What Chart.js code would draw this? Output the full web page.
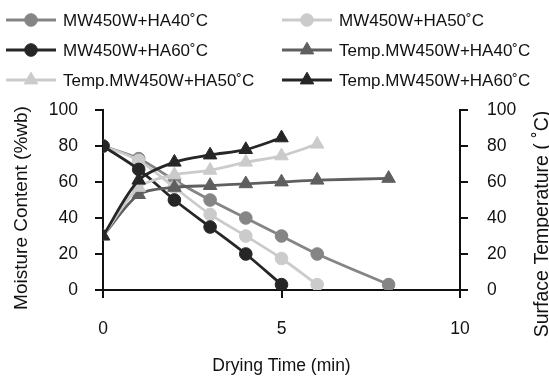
<!DOCTYPE html>
<html>
<head>
<meta charset="utf-8">
<script src="https://cdn.jsdelivr.net/npm/chart.js@4.4.0/dist/chart.umd.min.js"></script>
<style>
  html, body { margin:0; padding:0; background:#fff; }
</style>
</head>
<body>
<canvas id="chart" width="549" height="376"></canvas>
<script>
// Datos (tiempo en min, humedad %wb, temperatura ˚C)
const time40 = [0, 1, 2, 3, 4, 5, 6, 8];
const time50 = [0, 1, 2, 3, 4, 5, 6];
const time60 = [0, 1, 2, 3, 4, 5];
const moist40 = [80, 73, 61, 50, 40, 30, 20, 3];
const moist50 = [80, 72, 57, 42, 30, 17.5, 3];
const moist60 = [80, 67, 50, 35, 20, 3];
const temp40 = [30, 53, 57, 58, 59, 60, 61, 62];
const temp50 = [30, 57, 64, 66.5, 71, 74.5, 81];
const temp60 = [30, 61, 71, 75, 78, 84.5];
const seriesNames = ['MW450W+HA40˚C', 'MW450W+HA50˚C', 'MW450W+HA60˚C',
  'Temp.MW450W+HA40˚C', 'Temp.MW450W+HA50˚C', 'Temp.MW450W+HA60˚C'];
const xTicks = [0, 5, 10];
const yTicks = [0, 20, 40, 60, 80, 100];
const xTitle = 'Drying Time (min)';
const yTitle = 'Moisture Content (%wb)';
const y2Title = 'Surface Temperature ( ˚C)';

const FONT = '"Liberation Sans", Arial, sans-serif';
const AXIS = '#111';

function pts(xs, ys){ return xs.map((x, i) => ({ x: x, y: ys[i] })); }

function serie(i, xs, ys, color, style, axis){
  return {
    label: seriesNames[i], data: pts(xs, ys), yAxisID: axis,
    borderColor: color, backgroundColor: color,
    pointBackgroundColor: color, pointBorderColor: color,
    pointStyle: style, pointRadius: style === 'triangle' ? 7.8 : 6.3, pointBorderWidth: 1,
    borderWidth: 2.8, tension: 0.3, order: 6 - i
  };
}

// Leyenda en rejilla de 2 columnas, como en el original
const legendCols = [6, 282];
const legendRows = [20, 50, 80];
const gridLegend = {
  id: 'gridLegend',
  afterDraw(chart){
    const ctx = chart.ctx;
    chart.data.datasets.forEach((ds, i) => {
      const x0 = legendCols[i % 2], y = legendRows[Math.floor(i / 2)];
      ctx.save();
      ctx.strokeStyle = ds.borderColor; ctx.lineWidth = ds.borderWidth;
      ctx.beginPath(); ctx.moveTo(x0, y); ctx.lineTo(x0 + 50, y); ctx.stroke();
      ctx.fillStyle = ds.pointBackgroundColor; ctx.strokeStyle = ds.pointBorderColor; ctx.lineWidth = 1;
      Chart.helpers.drawPoint(ctx, { pointStyle: ds.pointStyle, radius: ds.pointRadius, rotation: 0, borderWidth: 1 }, x0 + 25, y);
      ctx.fillStyle = '#111'; ctx.font = '17px ' + FONT; ctx.textBaseline = 'middle'; ctx.textAlign = 'left';
      ctx.fillText(ds.label, x0 + 57, y + 1);
      ctx.restore();
    });
  }
};

// Títulos de ejes (el derecho se lee de abajo hacia arriba)
const axisTitles = {
  id: 'axisTitles',
  afterDraw(chart){
    const ctx = chart.ctx, a = chart.chartArea;
    ctx.save();
    ctx.fillStyle = '#111'; ctx.textAlign = 'center'; ctx.textBaseline = 'alphabetic';
    ctx.font = '17.5px ' + FONT;
    ctx.fillText(xTitle, (a.left + a.right) / 2, 371);
    ctx.font = '19px ' + FONT;
    ctx.save(); ctx.translate(27, 208); ctx.rotate(-Math.PI / 2); ctx.fillText(yTitle, 0, 0); ctx.restore();
    ctx.font = '19.5px ' + FONT;
    ctx.save(); ctx.translate(548, 224); ctx.rotate(-Math.PI / 2); ctx.fillText(y2Title, 0, 0); ctx.restore();
    ctx.restore();
  }
};

function axisOpts(pos, pad){
  return {
    type: 'linear', position: pos, min: 0, max: 100,
    afterBuildTicks: s => { s.ticks = yTicks.map(v => ({ value: v })); },
    grid: { drawOnChartArea: false, drawTicks: true, tickLength: 8, color: AXIS, lineWidth: 2 },
    border: { display: true, color: AXIS, width: 2 },
    ticks: { color: '#111', padding: pad, font: { family: FONT, size: 17.5 } }
  };
}

const yLeft = axisOpts('left', 17);
yLeft.afterFit = s => { s.width = 103; };
const yRight = axisOpts('right', 19);
yRight.afterFit = s => { s.width = 89; };

new Chart(document.getElementById('chart'), {
  type: 'line',
  data: {
    datasets: [
      serie(0, time40, moist40, '#858585', 'circle', 'y'),
      serie(1, time50, moist50, '#cbcbcb', 'circle', 'y'),
      serie(2, time60, moist60, '#262626', 'circle', 'y'),
      serie(3, time40, temp40, '#5f5f5f', 'triangle', 'y2'),
      serie(4, time50, temp50, '#cbcbcb', 'triangle', 'y2'),
      serie(5, time60, temp60, '#262626', 'triangle', 'y2')
    ]
  },
  options: {
    responsive: false, animation: false, devicePixelRatio: 1,
    layout: { padding: { top: 110, left: 0, right: 0, bottom: 0 } },
    plugins: { legend: { display: false }, tooltip: { enabled: false } },
    scales: {
      x: {
        type: 'linear', min: 0, max: 10,
        afterBuildTicks: s => { s.ticks = xTicks.map(v => ({ value: v })); },
        afterFit: s => { s.height = 86; },
        grid: { drawOnChartArea: false, drawTicks: true, tickLength: 8, color: AXIS, lineWidth: 2 },
        border: { display: true, color: AXIS, width: 2 },
        ticks: { color: '#111', padding: 21, maxRotation: 0, font: { family: FONT, size: 17.5 } }
      },
      y: yLeft,
      y2: yRight
    }
  },
  plugins: [gridLegend, axisTitles]
});
</script>
</body>
</html>
